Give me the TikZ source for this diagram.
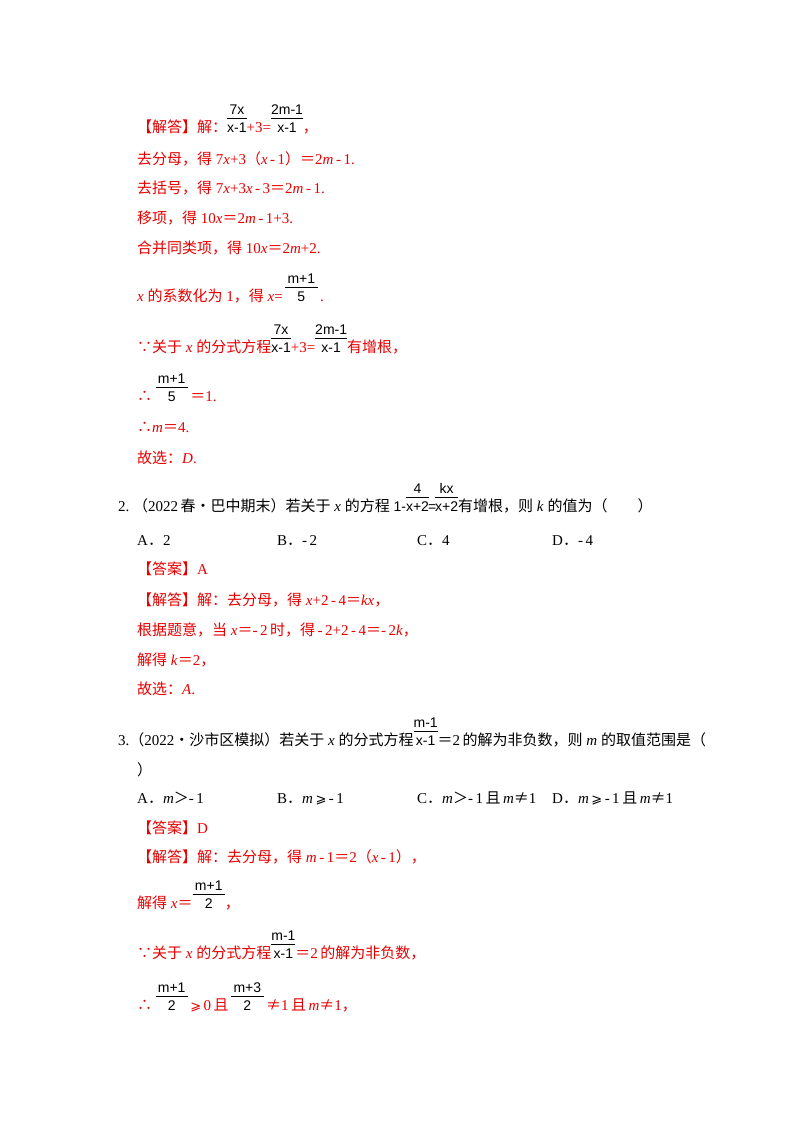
\documentclass[tikz,border=0pt]{standalone}
\usepackage{fontspec}
\setmainfont{Liberation Serif}
\newfontfamily\cjk{Noto Sans CJK SC}
\newfontfamily\fsans{Liberation Sans}
\newfontfamily\djv{DejaVu Sans}
\definecolor{ans}{RGB}{230,0,0}
\newcommand\C[1]{{\cjk #1}}
\newcommand\myge{{\djv\fontsize{13}{15}\selectfont ⩾}}
\newcommand\fr[2]{{\color{black}\fsans\fontsize{14}{15}\selectfont\begin{tabular}[b]{@{}c@{}}#1\\[-1pt]\hline\rule{0pt}{14pt}#2\end{tabular}}}
\begin{document}
\begin{tikzpicture}[x=1pt,y=-1pt,
  ln/.style={anchor=base west,inner sep=0pt,yshift=-5pt,font=\fontsize{15}{17}\selectfont},
  rd/.style={ln,text=ans},bk/.style={ln,text=black}]
\useasboundingbox (0,0) rectangle (800,1132);
\node[rd] (l1) at (137,127) {\C{【解答】解：}\fr{7x}{x-1}+3=\fr{2m-1}{x-1}\C{，}};
\node[rd] (l2) at (137,159) {\C{去分母，得} 7\textit{x}+3\C{（}\textit{x}\,-\,1\C{）}\C{＝}2\textit{m}\,-\,1.};
\node[rd] (l3) at (137,188) {\C{去括号，得} 7\textit{x}+3\textit{x}\,-\,3\C{＝}2\textit{m}\,-\,1.};
\node[rd] (l4) at (137,218) {\C{移项，得} 10\textit{x}\C{＝}2\textit{m}\,-\,1+3.};
\node[rd] (l5) at (137,248) {\C{合并同类项，得} 10\textit{x}\C{＝}2\textit{m}+2.};
\node[rd] (l6) at (137,296) {\textit{x} \C{的系数化为} 1\C{，得} \textit{x}=\,\fr{\,m+1\,}{5}\,.};
\node[rd] (l7) at (137,347) {\C{∵关于} \textit{x} \C{的分式方程}\fr{7x}{x-1}+3=\fr{2m-1}{x-1}\C{有增根，}};
\node[rd] (l8) at (137,396) {\C{∴ }\fr{\,m+1\,}{5}\,\C{＝}1.};
\node[rd] (l9) at (137,427) {\C{∴}\textit{m}\C{＝}4.};
\node[rd] (l10) at (137,458) {\C{故选：}\textit{D}.};
\node[bk] (q2) at (118,506) {2.\ \C{（}2022\,\C{春•巴中期末）若关于} \textit{x} \C{的方程} {\fsans\fontsize{14}{15}\selectfont 1-}\fr{4}{x+2}\kern-1pt{\fsans\fontsize{14}{15}\selectfont =}\kern-1pt\fr{kx}{x+2}\C{有增根，则} \textit{k} \C{的值为（\qquad ）}};
\node[bk] (a2a) at (137,540) {A\C{．}2};
\node[bk] (a2b) at (277,540) {B\C{．}-\,2};
\node[bk] (a2c) at (417,540) {C\C{．}4};
\node[bk] (a2d) at (552,540) {D\C{．}-\,4};
\node[rd] (r1) at (137,569) {\C{【答案】}A};
\node[rd] (r2) at (137,600) {\C{【解答】解：去分母，得} \textit{x}+2\,-\,4\C{＝}\textit{kx}\C{，}};
\node[rd] (r3) at (137,630) {\C{根据题意，当} \textit{x}\C{＝}-\,2\,\C{时，得}\,-\,2+2\,-\,4\C{＝}-\,2\textit{k}\C{，}};
\node[rd] (r4) at (137,660) {\C{解得} \textit{k}\C{＝}2\C{，}};
\node[rd] (r5) at (137,689) {\C{故选：}\textit{A}.};
\node[bk] (q3) at (118,740) {3.\C{（}2022\C{•沙市区模拟）若关于} \textit{x} \C{的分式方程}\fr{m-1}{x-1}\C{＝}2\,\C{的解为非负数，则} \textit{m} \C{的取值范围是（}};
\node[bk] (q3b) at (137,770) {\C{）}};
\node[bk] (b1) at (137,798) {A\C{．}\textit{m}\C{＞}-\,1};
\node[bk] (b2) at (277,798) {B\C{．}\textit{m}\,\myge\,-\,1};
\node[bk] (b3) at (417,798) {C\C{．}\textit{m}\C{＞}-\,1\,\C{且}\,\textit{m}\C{≠}1};
\node[bk] (b4) at (552,798) {D\C{．}\textit{m}\,\myge\,-\,1\,\C{且}\,\textit{m}\C{≠}1};
\node[rd] (s1) at (137,828) {\C{【答案】}D};
\node[rd] (s2) at (137,857) {\C{【解答】解：去分母，得} \textit{m}\,-\,1\C{＝}2\C{（}\textit{x}\,-\,1\C{）}\C{，}};
\node[rd] (s3) at (137,903) {\C{解得} \textit{x}\C{＝}\fr{\,m+1\,}{2}\C{，}};
\node[rd] (s4) at (137,953) {\C{∵关于} \textit{x} \C{的分式方程}\fr{m-1}{x-1}\C{＝}2\,\C{的解为非负数，}};
\node[rd] (s5) at (137,1005) {\C{∴ }\fr{\,m+1\,}{2}\,\myge\,0\,\C{且}\,\fr{\,m+3\,}{2}\,\C{≠}1\,\C{且}\,\textit{m}\C{≠}1\C{，}};
\end{tikzpicture}
\end{document}
